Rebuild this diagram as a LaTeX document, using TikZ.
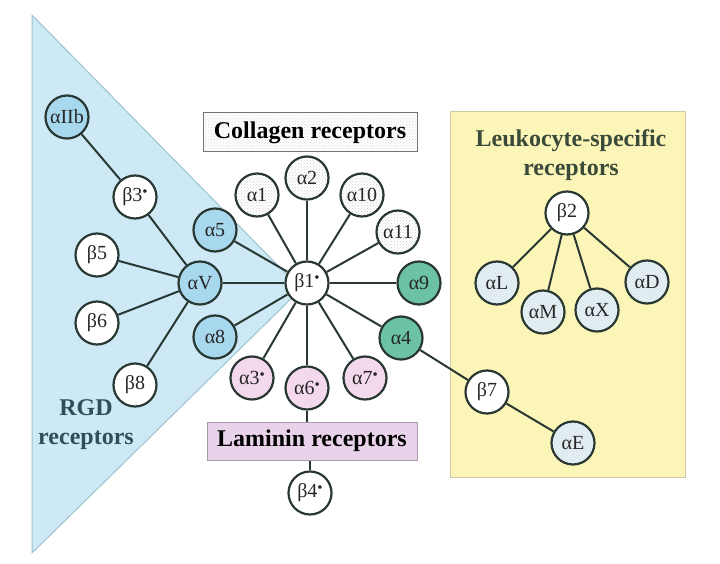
\documentclass[tikz,border=0pt]{standalone}
\usepackage{fontspec}
\setmainfont{Liberation Serif}
\usetikzlibrary{patterns}
\definecolor{triFill}{HTML}{CDE9F6}
\definecolor{triLine}{HTML}{9CC3CF}
\definecolor{ylwFill}{HTML}{FCF5B8}
\definecolor{ylwLine}{HTML}{CFCAA0}
\definecolor{blueN}{HTML}{A8D8EE}
\definecolor{greenN}{HTML}{6CC2A4}
\definecolor{pinkN}{HTML}{F4D8EC}
\definecolor{lamFill}{HTML}{E9D3EA}
\definecolor{lamLine}{HTML}{A899A8}
\definecolor{nodeLine}{HTML}{2A3833}
\definecolor{rgdText}{HTML}{2F4D5A}
\definecolor{leuText}{HTML}{3A4A3A}
\newcommand{\dotsup}{\raisebox{0.55ex}{\scalebox{0.75}{•}}}
\tikzset{
  integ/.style={circle, draw=nodeLine, line width=2.2pt, minimum size=43pt, inner sep=0pt, font=\fontsize{20}{20}\selectfont, text=black!85},
  whiteN/.style={integ, fill=white},
  blueNode/.style={integ, fill=blueN},
  greenNode/.style={integ, fill=greenN},
  pinkNode/.style={integ, fill=pinkN},
  collNode/.style={integ, preaction={fill=white}, pattern=crosshatch dots, pattern color=black!18},
  leukNode/.style={integ, preaction={fill=white!90!cyan}, pattern=north east lines, pattern color=black!15},
  link/.style={draw=nodeLine, line width=2pt},
  grouplabel/.style={font=\bfseries\fontsize{24}{29}\selectfont, align=center}
}
\begin{document}
\begin{tikzpicture}[x=1pt,y=-1pt]
\useasboundingbox (0,0) rectangle (720,564);
% regions
\fill[triFill, draw=triLine, line width=1pt] (32,15) -- (301,289) -- (32,553) -- cycle;
\fill[ylwFill, draw=ylwLine, line width=1pt] (450,112) rectangle (685,477);
% group labels
\node[grouplabel, text=rgdText] (rgd) at (86,425) {RGD\\receptors};
\node[grouplabel, text=leuText] (leu) at (571,155) {Leukocyte-specific\\receptors};
\node[grouplabel, draw=black!55, line width=1pt, preaction={fill=white}, pattern=crosshatch dots, pattern color=black!15, minimum width=214pt, minimum height=39pt, inner sep=0pt] (coll) at (310,132.5) {Collagen receptors};
\node[grouplabel, draw=lamLine, line width=1pt, fill=lamFill, minimum width=210pt, minimum height=38pt, inner sep=0pt] (lam) at (312,441) {Laminin receptors};
% RGD nodes
\node[blueNode] (aIIb) at (67,117) {αIIb};
\node[whiteN] (b3) at (135,197) {β3\dotsup};
\node[whiteN] (b5) at (97,255) {β5};
\node[blueNode] (aV) at (200,283) {αV};
\node[blueNode] (a5) at (215,230) {α5};
\node[whiteN] (b6) at (97,323) {β6};
\node[blueNode] (a8) at (215,337) {α8};
\node[whiteN] (b8) at (135,385) {β8};
% beta1 hub
\node[whiteN] (b1) at (307,283) {β1\dotsup};
\node[collNode] (a1) at (257,195) {α1};
\node[collNode] (a2) at (307,178) {α2};
\node[collNode] (a10) at (362,195) {α10};
\node[collNode] (a11) at (398,232) {α11};
\node[greenNode] (a9) at (419,283) {α9};
\node[greenNode] (a4) at (401,338) {α4};
\node[pinkNode] (a3) at (252,378) {α3\dotsup};
\node[pinkNode] (a6) at (307,388) {α6\dotsup};
\node[pinkNode] (a7) at (365,378) {α7\dotsup};
\node[whiteN] (b4) at (310,493) {β4\dotsup};
% beta7
\node[whiteN] (b7) at (487,392) {β7};
\node[leukNode] (aE) at (573,443) {αE};
% leukocyte
\node[whiteN] (b2) at (567,213) {β2};
\node[leukNode] (aL) at (497,283) {αL};
\node[leukNode] (aM) at (543,312) {αM};
\node[leukNode] (aX) at (597,310) {αX};
\node[leukNode] (aD) at (647,282) {αD};
% links
\draw[link] (aIIb) -- (b3);
\draw[link] (b3) -- (aV);
\draw[link] (b5) -- (aV);
\draw[link] (b6) -- (aV);
\draw[link] (b8) -- (aV);
\draw[link] (aV) -- (b1);
\draw[link] (a5) -- (b1);
\draw[link] (a8) -- (b1);
\draw[link] (a1) -- (b1);
\draw[link] (a2) -- (b1);
\draw[link] (a10) -- (b1);
\draw[link] (a11) -- (b1);
\draw[link] (a9) -- (b1);
\draw[link] (a4) -- (b1);
\draw[link] (a3) -- (b1);
\draw[link] (a6) -- (b1);
\draw[link] (a7) -- (b1);
\draw[link] (a6) -- (a6 |- lam.north);
\draw[link] (b4 |- lam.south) -- (b4);
\draw[link] (a4) -- (b7);
\draw[link] (b7) -- (aE);
\draw[link] (b2) -- (aL);
\draw[link] (b2) -- (aM);
\draw[link] (b2) -- (aX);
\draw[link] (b2) -- (aD);
\end{tikzpicture}
\end{document}
